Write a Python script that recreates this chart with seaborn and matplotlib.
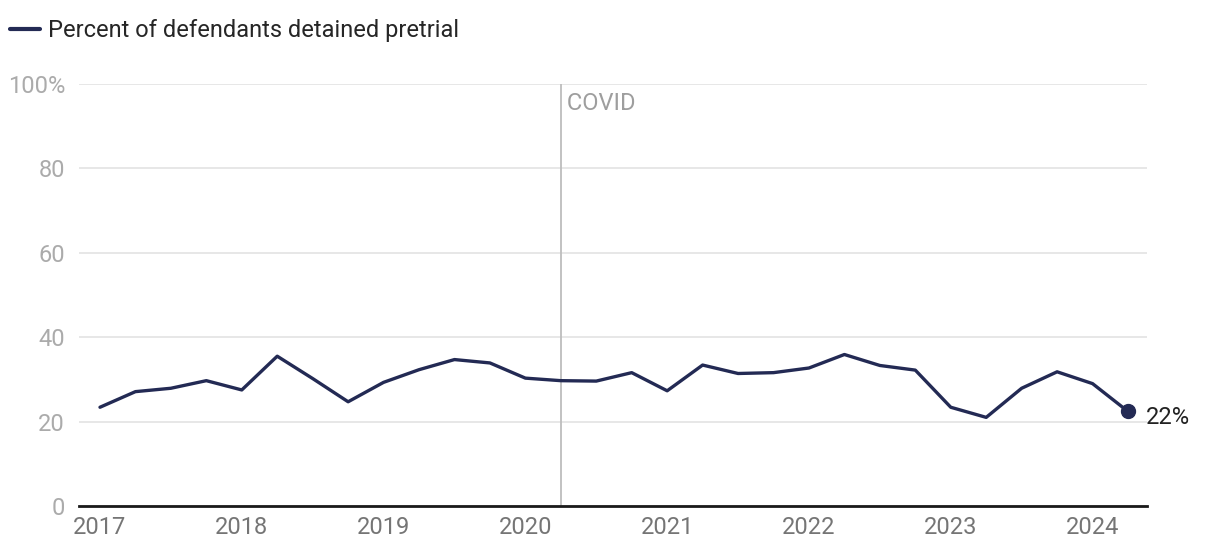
import pandas as pd
import matplotlib
matplotlib.use("Agg")
import matplotlib.pyplot as plt
import seaborn as sns

quarters = ["2017Q1", "2017Q2", "2017Q3", "2017Q4",
            "2018Q1", "2018Q2", "2018Q3", "2018Q4",
            "2019Q1", "2019Q2", "2019Q3", "2019Q4",
            "2020Q1", "2020Q2", "2020Q3", "2020Q4",
            "2021Q1", "2021Q2", "2021Q3", "2021Q4",
            "2022Q1", "2022Q2", "2022Q3", "2022Q4",
            "2023Q1", "2023Q2", "2023Q3", "2023Q4",
            "2024Q1", "2024Q2"]
detained = [23.4, 27.1, 27.9, 29.7,
            27.5, 35.5, 30.2, 24.7,
            29.3, 32.3, 34.7, 33.9,
            30.3, 29.7, 29.6, 31.6,
            27.3, 33.4, 31.4, 31.6,
            32.7, 35.9, 33.3, 32.2,
            23.4, 21.0, 27.9, 31.8,
            29.0, 22.4]
year_ticks = [2017, 2018, 2019, 2020, 2021, 2022, 2023, 2024]
y_ticks = [0, 20, 40, 60, 80, 100]
covid_quarter = "2020Q2"
series_name = "Percent of defendants detained pretrial"

NAVY = "#232a54"
FS = 17


def to_year(q):
    p = pd.Period(q, freq="Q")
    return p.year + (p.quarter - 1) / 4


df = pd.DataFrame({"quarter": quarters, "pct": detained})
df["x"] = df["quarter"].map(to_year)

sns.set_style("white")
plt.rcParams["font.family"] = ["Roboto", "DejaVu Sans"]

fig = plt.figure(figsize=(12.2, 5.56), dpi=100)
ax = fig.add_axes([79 / 1220, 1 - 506 / 556, (1147 - 79) / 1220, (506 - 84) / 556])

sns.lineplot(data=df, x="x", y="pct", ax=ax, color=NAVY, linewidth=2.4,
             label=series_name)

last = df.iloc[-1]
ax.plot(last["x"], last["pct"], "o", color=NAVY, markersize=10, zorder=5)
ax.annotate(f"{last['pct']:.0f}%", (last["x"], last["pct"]),
            xytext=(13, -4), textcoords="offset points",
            va="center", ha="left", fontsize=FS, color="#222222")

cx = to_year(covid_quarter)
ax.axvline(cx, color="#bdbdbd", linewidth=1.3, zorder=1)
ax.text(cx, 98, " COVID", ha="left", va="top", fontsize=FS, color="#9e9e9e")

ax.set_xlim(2016.852, 2024.384)
ax.set_ylim(0, 100)
ax.set_xticks(year_ticks)
ax.set_xticklabels([str(y) for y in year_ticks])
ax.set_yticks(y_ticks)
ax.set_yticklabels([f"{v}%" if v == 100 else str(v) for v in y_ticks])
ax.grid(axis="y", color="#e3e3e3", linewidth=1.2)
ax.set_axisbelow(True)
for s in ["top", "right", "left"]:
    ax.spines[s].set_visible(False)
ax.spines["bottom"].set_color("#1a1a1a")
ax.spines["bottom"].set_linewidth(2)
ax.spines["bottom"].set_zorder(6)
ax.tick_params(axis="x", length=0, pad=7, labelsize=FS, labelcolor="#757575")
ax.tick_params(axis="y", length=0, pad=10, labelsize=FS, labelcolor="#ababab")
ax.set_xlabel("")
ax.set_ylabel("")

leg = ax.legend(loc="center left", bbox_to_anchor=(10 / 1220, 1 - 31 / 556),
                bbox_transform=fig.transFigure, frameon=False, fontsize=FS,
                handlelength=1.27, handletextpad=0.34, borderpad=0, borderaxespad=0)
for h in leg.get_lines():
    h.set_linewidth(3)

fig.savefig("out.png", dpi=100)
